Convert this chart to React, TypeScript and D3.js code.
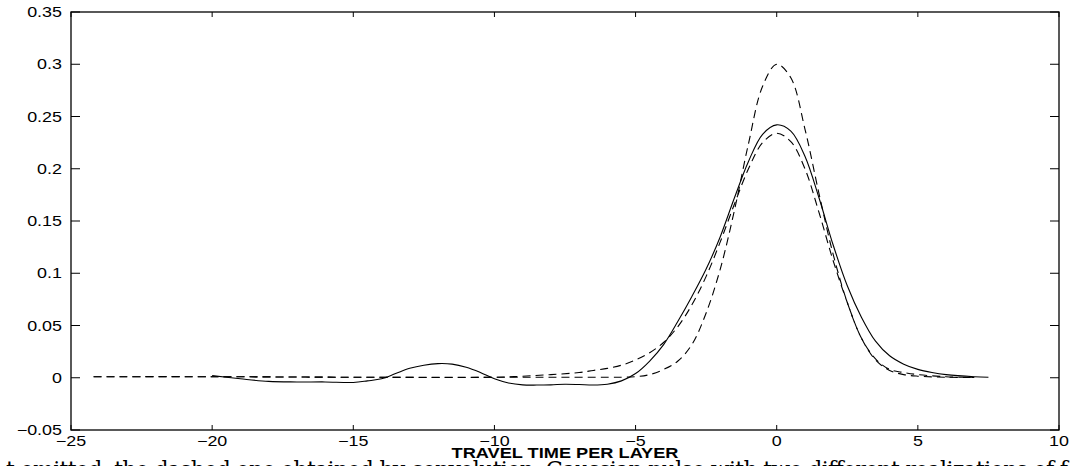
import React from "react";
import * as d3 from "d3";

// Tick values
const xTicks = [-25, -20, -15, -10, -5, 0, 5, 10];
const yTicks = [-0.05, 0, 0.05, 0.1, 0.15, 0.2, 0.25, 0.3, 0.35];
const xLabel = "TRAVEL TIME PER LAYER";
const captionText =
  "t omitted, the dashed one obtained by convolution. Gaussian pulse with two different realizations of f";

// Solid curve (x, value)
const solidX = [-20, -19, -18, -17, -16, -15, -14.5, -14, -13.5, -13, -12.5, -12, -11.5, -11, -10.5, -10, -9.5, -9, -8.5, -8, -7.5, -7, -6.5, -6, -5.5, -5, -4.5, -4, -3.5, -3, -2.5, -2, -1.5, -1, -0.5, 0, 0.5, 1, 1.5, 2, 2.5, 3, 3.5, 4, 4.5, 5, 5.5, 6, 7, 7.5];
const solidY = [0.002, -0.001, -0.0035, -0.004, -0.004, -0.0045, -0.003, -0.001, 0.004, 0.009, 0.012, 0.0135, 0.013, 0.01, 0.005, -0.001, -0.005, -0.0068, -0.007, -0.0068, -0.0062, -0.0065, -0.007, -0.0062, -0.003, 0.004, 0.016, 0.032, 0.054, 0.078, 0.104, 0.135, 0.172, 0.207, 0.233, 0.242, 0.236, 0.212, 0.172, 0.127, 0.088, 0.058, 0.035, 0.021, 0.013, 0.008, 0.005, 0.003, 0.001, 0.0005];

// Tall dashed curve
const tallX = [-24.2, -20, -15, -10, -8, -6, -5, -4.5, -4, -3.5, -3, -2.5, -2, -1.5, -1, -0.5, 0, 0.5, 1, 1.5, 2, 2.5, 3, 3.5, 4, 4.5, 5, 6, 7];
const tallY = [0.001, 0.001, 0.0005, 0.0005, 0.0005, 0.0005, 0.001, 0.003, 0.008, 0.016, 0.032, 0.062, 0.104, 0.16, 0.224, 0.279, 0.3, 0.287, 0.238, 0.176, 0.118, 0.072, 0.038, 0.017, 0.007, 0.003, 0.0015, 0.0005, 0.0002];

// Wide dashed curve
const wideX = [-24.2, -20, -15, -10, -9, -8, -7, -6.5, -6, -5.5, -5, -4.5, -4, -3.5, -3, -2.5, -2, -1.5, -1, -0.5, 0, 0.5, 1, 1.5, 2, 2.5, 3, 3.5, 4, 4.5, 5, 6, 7];
const wideY = [0.001, 0.001, 0.0005, 0.0005, 0.0015, 0.003, 0.005, 0.007, 0.009, 0.012, 0.017, 0.024, 0.034, 0.049, 0.07, 0.097, 0.13, 0.166, 0.2, 0.225, 0.234, 0.226, 0.2, 0.158, 0.112, 0.072, 0.038, 0.018, 0.008, 0.005, 0.003, 0.001, 0.0003];

const W = 1075;
const H = 466;
const L = 71, R = 1059, T = 12, B = 430;
const SX = 1.28;

export default function App() {
  const x = d3.scaleLinear().domain([-25, 10]).range([L, R]);
  const y = d3.scaleLinear().domain([-0.05, 0.35]).range([B, T]);
  const mk = (xs: number[], ys: number[]) =>
    d3
      .line<[number, number]>()
      .x((d) => x(d[0]))
      .y((d) => y(d[1]))
      .curve(d3.curveCatmullRom.alpha(0.5))(xs.map((v, i) => [v, ys[i]] as [number, number])) || "";
  const font = "'Liberation Sans', Arial, Helvetica, sans-serif";
  const fmt = (t: number) => String(+t.toFixed(2)).replace("-", "\u2212");
  return (
    <svg
      width={W}
      height={H}
      style={{ position: "absolute", left: 0, top: 0, background: "#fff" }}
    >
      <rect x={0} y={0} width={W} height={H} fill="#fff" />
      <g fill="none" stroke="#000" strokeWidth={1.1}>
        <path d={mk(wideX, wideY)} strokeDasharray="8,5" />
        <path d={mk(tallX, tallY)} strokeDasharray="8,5" />
        <path d={mk(solidX, solidY)} />
      </g>
      {/* frame */}
      <rect x={L} y={T} width={R - L} height={B - T} fill="none" stroke="#000" strokeWidth={1.3} />
      {/* ticks */}
      <g stroke="#000" strokeWidth={1}>
        {xTicks.map((t) => (
          <g key={"xt" + t}>
            <line x1={x(t)} x2={x(t)} y1={B} y2={B - 5} />
            <line x1={x(t)} x2={x(t)} y1={T} y2={T + 5} />
          </g>
        ))}
        {yTicks.map((t) => (
          <g key={"yt" + t}>
            <line x1={L} x2={L + 9} y1={y(t)} y2={y(t)} />
            <line x1={R} x2={R - 9} y1={y(t)} y2={y(t)} />
          </g>
        ))}
      </g>
      <g fontFamily={font} fontSize={14} fill="#000">
        {xTicks.map((t) => (
          <text
            key={"xl" + t}
            transform={`translate(${x(t)},${B + 16}) scale(${SX},1)`}
            textAnchor="middle"
          >
            {fmt(t)}
          </text>
        ))}
        {yTicks.map((t) => (
          <text
            key={"yl" + t}
            transform={`translate(${L - 9},${y(t) + 5}) scale(${SX},1)`}
            textAnchor="end"
          >
            {fmt(t)}
          </text>
        ))}
        <text
          transform={`translate(${(L + R) / 2},458) scale(1.3,1)`}
          textAnchor="middle"
          fontWeight="bold"
          fontSize={14}
        >
          {xLabel}
        </text>
      </g>
      <text
        x={6}
        y={477}
        fontFamily="'DejaVu Serif', 'Liberation Serif', serif"
        fontSize={22}
        textLength={1062}
        lengthAdjust="spacing"
        fill="#000"
      >
        {captionText}
      </text>
    </svg>
  );
}
